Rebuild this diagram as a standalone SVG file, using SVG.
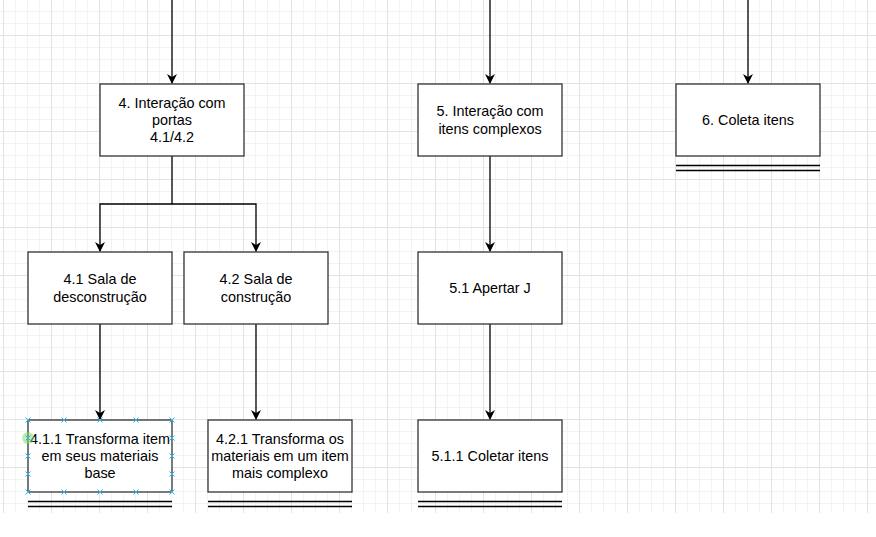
<svg xmlns="http://www.w3.org/2000/svg" width="876" height="537" viewBox="0 0 876 537">
<defs>
<pattern id="minor" x="3" y="11" width="12" height="12" patternUnits="userSpaceOnUse">
<path d="M0.5 0V12M0 0.5H12" fill="none" stroke="#f3f3f3" stroke-width="1"/>
</pattern>
<pattern id="major" x="3" y="35" width="48" height="48" patternUnits="userSpaceOnUse">
<path d="M0.5 0V48M0 0.5H48" fill="none" stroke="#e2e2e2" stroke-width="1"/>
</pattern>
<marker id="arr" viewBox="0 0 10 10" refX="9" refY="5" markerWidth="10" markerHeight="10" markerUnits="userSpaceOnUse" orient="auto">
<path d="M0 0L10 5L0 10L3 5Z" fill="#000"/>
</marker>
<g id="xm"><path d="M-2.5 -2.5L2.5 2.5M-2.5 2.5L2.5 -2.5" stroke="#29b6f2" stroke-width="1"/></g>
</defs>
<style>
.box{fill:#fff;stroke:#333;stroke-width:1.3}
.t{font-family:"Liberation Sans",Arial,sans-serif;font-size:14.4px;fill:#000;text-anchor:middle;dominant-baseline:central}
.c{fill:none;stroke:#000;stroke-width:1.3}
.dl{stroke:#000;stroke-width:1.3}
</style>
<rect width="876" height="537" fill="#fff"/>
<rect width="876" height="513" fill="url(#minor)"/>
<rect width="876" height="513" fill="url(#major)"/>
<g id="connectors">
<path class="c" d="M172 0V83" marker-end="url(#arr)"/>
<path class="c" d="M490 0V83" marker-end="url(#arr)"/>
<path class="c" d="M748 0V83" marker-end="url(#arr)"/>
<path class="c" d="M172 156V204H100V251" marker-end="url(#arr)"/>
<path class="c" d="M172 204H256V251" marker-end="url(#arr)"/>
<path class="c" d="M490 156V251" marker-end="url(#arr)"/>
<path class="c" d="M100 324V419" marker-end="url(#arr)"/>
<path class="c" d="M256 324V419" marker-end="url(#arr)"/>
<path class="c" d="M490 324V419" marker-end="url(#arr)"/>
</g>
<g id="n4"><rect class="box" x="100" y="84" width="144" height="72"/><text class="t" x="172" y="102.7">4. Interação com</text><text class="t" x="172" y="120">portas</text><text class="t" x="172" y="137.3">4.1/4.2</text></g>
<g id="n5"><rect class="box" x="418" y="84" width="144" height="72"/><text class="t" x="490" y="111.4">5. Interação com</text><text class="t" x="490" y="128.6">itens complexos</text></g>
<g id="n6"><rect class="box" x="676" y="84" width="144" height="72"/><text class="t" x="748" y="120">6. Coleta itens</text><path class="dl" d="M676 165.5H820M676 170.5H820"/></g>
<g id="n41"><rect class="box" x="28" y="252" width="144" height="72"/><text class="t" x="100" y="279.4">4.1 Sala de</text><text class="t" x="100" y="296.6">desconstrução</text></g>
<g id="n42"><rect class="box" x="184" y="252" width="144" height="72"/><text class="t" x="256" y="279.4">4.2 Sala de</text><text class="t" x="256" y="296.6">construção</text></g>
<g id="n51"><rect class="box" x="418" y="252" width="144" height="72"/><text class="t" x="490" y="288">5.1 Apertar J</text></g>
<g id="n411"><rect class="box" x="28" y="420" width="144" height="72"/><text class="t" x="100" y="438.7">4.1.1 Transforma item</text><text class="t" x="100" y="456">em seus materiais</text><text class="t" x="100" y="473.3">base</text><path class="dl" d="M28 501.5H172M28 506.5H172"/></g>
<g id="n421"><rect class="box" x="208" y="420" width="144" height="72"/><text class="t" x="280" y="438.7">4.2.1 Transforma os</text><text class="t" x="280" y="456">materiais em um item</text><text class="t" x="280" y="473.3">mais complexo</text><path class="dl" d="M208 501.5H352M208 506.5H352"/></g>
<g id="n511"><rect class="box" x="418" y="420" width="144" height="72"/><text class="t" x="490" y="456">5.1.1 Coletar itens</text><path class="dl" d="M418 501.5H562M418 506.5H562"/></g>
<g id="selection">
<use href="#xm" x="28" y="420"/><use href="#xm" x="64" y="420"/><use href="#xm" x="100" y="420"/><use href="#xm" x="136" y="420"/><use href="#xm" x="172" y="420"/>
<use href="#xm" x="28" y="492"/><use href="#xm" x="64" y="492"/><use href="#xm" x="100" y="492"/><use href="#xm" x="136" y="492"/><use href="#xm" x="172" y="492"/>
<use href="#xm" x="28" y="456"/><use href="#xm" x="28" y="474"/>
<use href="#xm" x="172" y="438"/><use href="#xm" x="172" y="456"/><use href="#xm" x="172" y="474"/>
<circle cx="28" cy="438" r="6" fill="#7fd96a" fill-opacity="0.5"/>
<use href="#xm" x="28" y="438"/>
</g>
</svg>
